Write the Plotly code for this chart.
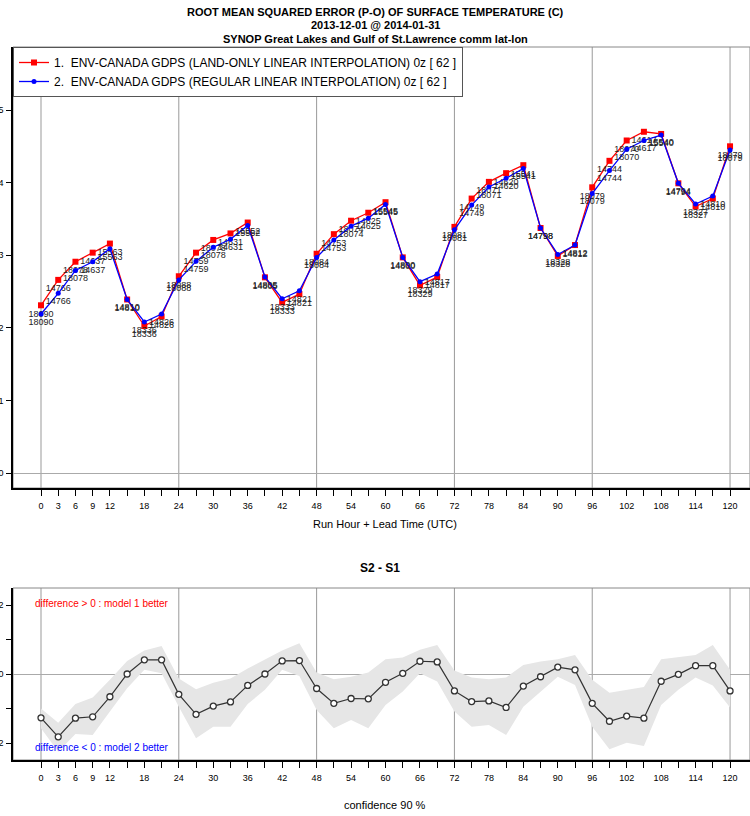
import plotly.graph_objects as go

# ---------------- data ----------------
lead_hours = [0, 3, 6, 9, 12, 15, 18, 21, 24, 27, 30, 33, 36, 39, 42, 45, 48, 51, 54, 57, 60,
              63, 66, 69, 72, 75, 78, 81, 84, 87, 90, 93, 96, 99, 102, 105, 108, 111, 114, 117, 120]

rmse_land_only = [2.31, 2.66, 2.91, 3.035, 3.16, 2.39, 2.025, 2.155, 2.71, 3.035, 3.21, 3.30, 3.45,
                  2.695, 2.35, 2.465, 3.02, 3.29, 3.475, 3.585, 3.73, 2.97, 2.585, 2.70, 3.39, 3.78,
                  4.01, 4.13, 4.24, 3.375, 2.99, 3.14, 3.935, 4.30, 4.58, 4.70, 4.67, 3.99, 3.67,
                  3.78, 4.50]

rmse_regular = [2.19, 2.475, 2.79, 2.91, 3.09, 2.39, 2.08, 2.19, 2.66, 2.915, 3.11, 3.22, 3.41,
                2.70, 2.40, 2.51, 2.97, 3.21, 3.40, 3.51, 3.70, 2.97, 2.635, 2.74, 3.35, 3.69,
                3.94, 4.06, 4.195, 3.375, 3.01, 3.14, 3.85, 4.165, 4.46, 4.58, 4.655, 3.99, 3.705,
                3.815, 4.45]

counts = [18090, 14766, 18078, 14637, 15563, 14810, 18336, 14826, 18088, 14759, 18078, 14631,
          15552, 14805, 18333, 14821, 18084, 14753, 18074, 14625, 15545, 14800, 18329, 14817,
          18081, 14749, 18071, 14620, 15541, 14798, 18328, 14812, 18079, 14744, 18070, 14617,
          15540, 14794, 18327, 14810, 18079]

diff_s2_s1 = [-0.127, -0.182, -0.128, -0.124, -0.066, 0.0, 0.041, 0.041, -0.059, -0.117, -0.093,
              -0.081, -0.033, 0.0, 0.038, 0.039, -0.042, -0.085, -0.071, -0.072, -0.024, 0.002,
              0.037, 0.035, -0.049, -0.080, -0.078, -0.097, -0.035, -0.008, 0.020, 0.012, -0.085,
              -0.137, -0.122, -0.128, -0.021, -0.001, 0.024, 0.024, -0.049]

conf_upper = [-0.100, -0.141, -0.087, -0.068, -0.017, 0.038, 0.068, 0.081, -0.013, -0.044, -0.025,
              -0.013, 0.016, 0.043, 0.068, 0.089, 0.004, -0.015, -0.008, 0.004, 0.043, 0.048,
              0.070, 0.084, 0.010, -0.010, -0.015, -0.010, 0.026, 0.036, 0.043, 0.055, -0.017,
              -0.054, -0.046, -0.038, 0.043, 0.050, 0.055, 0.084, 0.012]

conf_lower = [-0.157, -0.225, -0.174, -0.177, -0.109, -0.041, 0.012, 0.002, -0.095, -0.186, -0.153,
              -0.153, -0.087, -0.046, 0.012, -0.006, -0.104, -0.157, -0.133, -0.157, -0.090, -0.051,
              0.002, -0.022, -0.109, -0.153, -0.148, -0.177, -0.095, -0.051, -0.008, -0.032, -0.153,
              -0.218, -0.199, -0.209, -0.090, -0.046, -0.010, -0.033, -0.097]

x_tick_vals = list(range(0, 121, 3))
x_tick_labels = [str(v) if (v <= 12 or v % 6 == 0) else "" for v in x_tick_vals]
y_top_ticks = [0, 1, 2, 3, 4, 5]
y_bot_ticks = [-0.2, -0.1, 0.0, 0.1, 0.2]
y_bot_labels = ["-0.2", "", "0", "", "0.2"]
grid_x = [0, 24, 48, 72, 96, 120]

legend_1 = "1.  ENV-CANADA GDPS (LAND-ONLY LINEAR INTERPOLATION) 0z [ 62 ]"
legend_2 = "2.  ENV-CANADA GDPS (REGULAR LINEAR INTERPOLATION) 0z [ 62 ]"

# ---------------- geometry ----------------
W, H = 750, 816
ML, MR = 13, 0
PW = W - ML - MR


def py(p):
    return 1 - p / H


def px(p):
    return (p - ML) / PW


FONT = "Liberation Sans, Arial, Helvetica, sans-serif"

fig = go.Figure()

fig.add_trace(go.Scatter(
    x=lead_hours, y=rmse_land_only, mode="lines+markers+text", name=legend_1,
    line=dict(color="#ff0000", width=1.3),
    marker=dict(symbol="square", size=6, color="#ff0000"),
    text=[str(c) for c in counts], textposition="bottom center",
    textfont=dict(size=9, color="#222222", family=FONT),
    xaxis="x", yaxis="y", cliponaxis=False))

fig.add_trace(go.Scatter(
    x=lead_hours, y=rmse_regular, mode="lines+markers+text", name=legend_2,
    line=dict(color="#0000ff", width=1.3),
    marker=dict(symbol="circle", size=5, color="#0000ff"),
    text=[str(c) for c in counts], textposition="bottom center",
    textfont=dict(size=9, color="#222222", family=FONT),
    xaxis="x", yaxis="y", cliponaxis=False))

# confidence band
fig.add_trace(go.Scatter(
    x=lead_hours, y=conf_lower, mode="lines", line=dict(width=0, color="#e6e6e6"),
    showlegend=False, hoverinfo="skip", xaxis="x2", yaxis="y2"))
fig.add_trace(go.Scatter(
    x=lead_hours, y=conf_upper, mode="lines", line=dict(width=0, color="#e6e6e6"),
    fill="tonexty", fillcolor="#e6e6e6",
    showlegend=False, hoverinfo="skip", xaxis="x2", yaxis="y2"))

fig.add_trace(go.Scatter(
    x=lead_hours, y=diff_s2_s1, mode="lines+markers",
    line=dict(color="#333333", width=1.2),
    marker=dict(symbol="circle", size=6, color="white", line=dict(color="#333333", width=1.3)),
    showlegend=False, xaxis="x2", yaxis="y2"))

# ---------------- axes ----------------
x_range = [(ML - 41) / 5.742, (W - 41) / 5.742]
top_dom = [py(488), py(47)]
bot_dom = [py(760), py(588)]

common_x = dict(
    range=x_range, tickmode="array", tickvals=x_tick_vals, ticktext=x_tick_labels,
    ticks="outside", ticklen=6, tickcolor="black", tickwidth=1,
    showline=True, linecolor="black", linewidth=1.5, showgrid=False, zeroline=False,
    tickfont=dict(size=9, color="black", family=FONT), ticklabelstandoff=2)

fig.update_layout(
    width=W, height=H,
    margin=dict(l=ML, r=MR, t=0, b=0, autoexpand=False),
    paper_bgcolor="white", plot_bgcolor="white",
    font=dict(family=FONT, color="black"),
    showlegend=True,
    legend=dict(x=0, y=py(47), xanchor="left", yanchor="top", xref="paper", yref="paper",
                bgcolor="white", bordercolor="#555555", borderwidth=1,
                font=dict(size=12, color="black", family=FONT),
                traceorder="normal", tracegroupgap=0, itemwidth=30),
    xaxis=dict(domain=[0, 1], anchor="y", **common_x),
    yaxis=dict(domain=top_dom, anchor="x", range=[(473 - 488) / 72.6, (473 - 47) / 72.6],
               tickmode="array", tickvals=y_top_ticks, ticktext=[str(v) for v in y_top_ticks],
               ticks="outside", ticklen=5, tickcolor="black",
               showline=True, linecolor="black", linewidth=1.5, showgrid=False,
               zeroline=True, zerolinecolor="#aaaaaa", zerolinewidth=1,
               tickfont=dict(size=9, color="black", family=FONT), ticklabelstandoff=1),
    xaxis2=dict(domain=[0, 1], anchor="y2", **common_x),
    yaxis2=dict(domain=bot_dom, anchor="x2", range=[-(760 - 674) / 345, (674 - 588) / 345],
                tickmode="array", tickvals=y_bot_ticks, ticktext=y_bot_labels,
                ticks="outside", ticklen=5, tickcolor="black",
                showline=True, linecolor="black", linewidth=1.5, showgrid=False,
                zeroline=True, zerolinecolor="#aaaaaa", zerolinewidth=1,
                tickfont=dict(size=9, color="black", family=FONT), ticklabelstandoff=1),
)

shapes = []
for xa, ya in (("x", "y"), ("x2", "y2")):
    for g in grid_x:
        shapes.append(dict(type="line", xref=xa, yref=ya + " domain", x0=g, x1=g, y0=0, y1=1,
                           line=dict(color="#999999", width=1), layer="below"))
    shapes.append(dict(type="rect", xref=xa + " domain", yref=ya + " domain", x0=0, x1=1, y0=0, y1=1,
                       line=dict(color="#888888", width=1), layer="below"))
fig.update_layout(shapes=shapes)

ann = [
    dict(text="<b>ROOT MEAN SQUARED ERROR (P-O) OF SURFACE TEMPERATURE (C)</b>", x=px(375), y=py(12), size=11, color="black"),
    dict(text="<b>2013-12-01 @ 2014-01-31</b>", x=px(375), y=py(25), size=11, color="black"),
    dict(text="<b>SYNOP Great Lakes and Gulf of St.Lawrence comm lat-lon</b>", x=px(375), y=py(39), size=11, color="black"),
    dict(text="Run Hour + Lead Time (UTC)", x=px(385), y=py(524), size=11, color="black"),
    dict(text="<b>S2 - S1</b>", x=px(380), y=py(568), size=12, color="black"),
    dict(text="confidence 90 %", x=px(385), y=py(805), size=11, color="black"),
]
annotations = [dict(text=a["text"], x=a["x"], y=a["y"], xref="paper", yref="paper",
                    xanchor="center", yanchor="middle", showarrow=False,
                    font=dict(size=a["size"], color=a["color"], family=FONT)) for a in ann]
annotations.append(dict(text="difference > 0 : model 1 better", x=px(33), y=py(603), xref="paper", yref="paper",
                        xanchor="left", yanchor="middle", showarrow=False,
                        font=dict(size=10, color="#ff0000", family=FONT)))
annotations.append(dict(text="difference < 0 : model 2 better", x=px(33), y=py(747), xref="paper", yref="paper",
                        xanchor="left", yanchor="middle", showarrow=False,
                        font=dict(size=10, color="#0000ff", family=FONT)))
fig.update_layout(annotations=annotations)

fig.write_html("out.html", config={"displayModeBar": False},
               post_script="document.body.style.margin='0';document.body.style.overflow='hidden';")
